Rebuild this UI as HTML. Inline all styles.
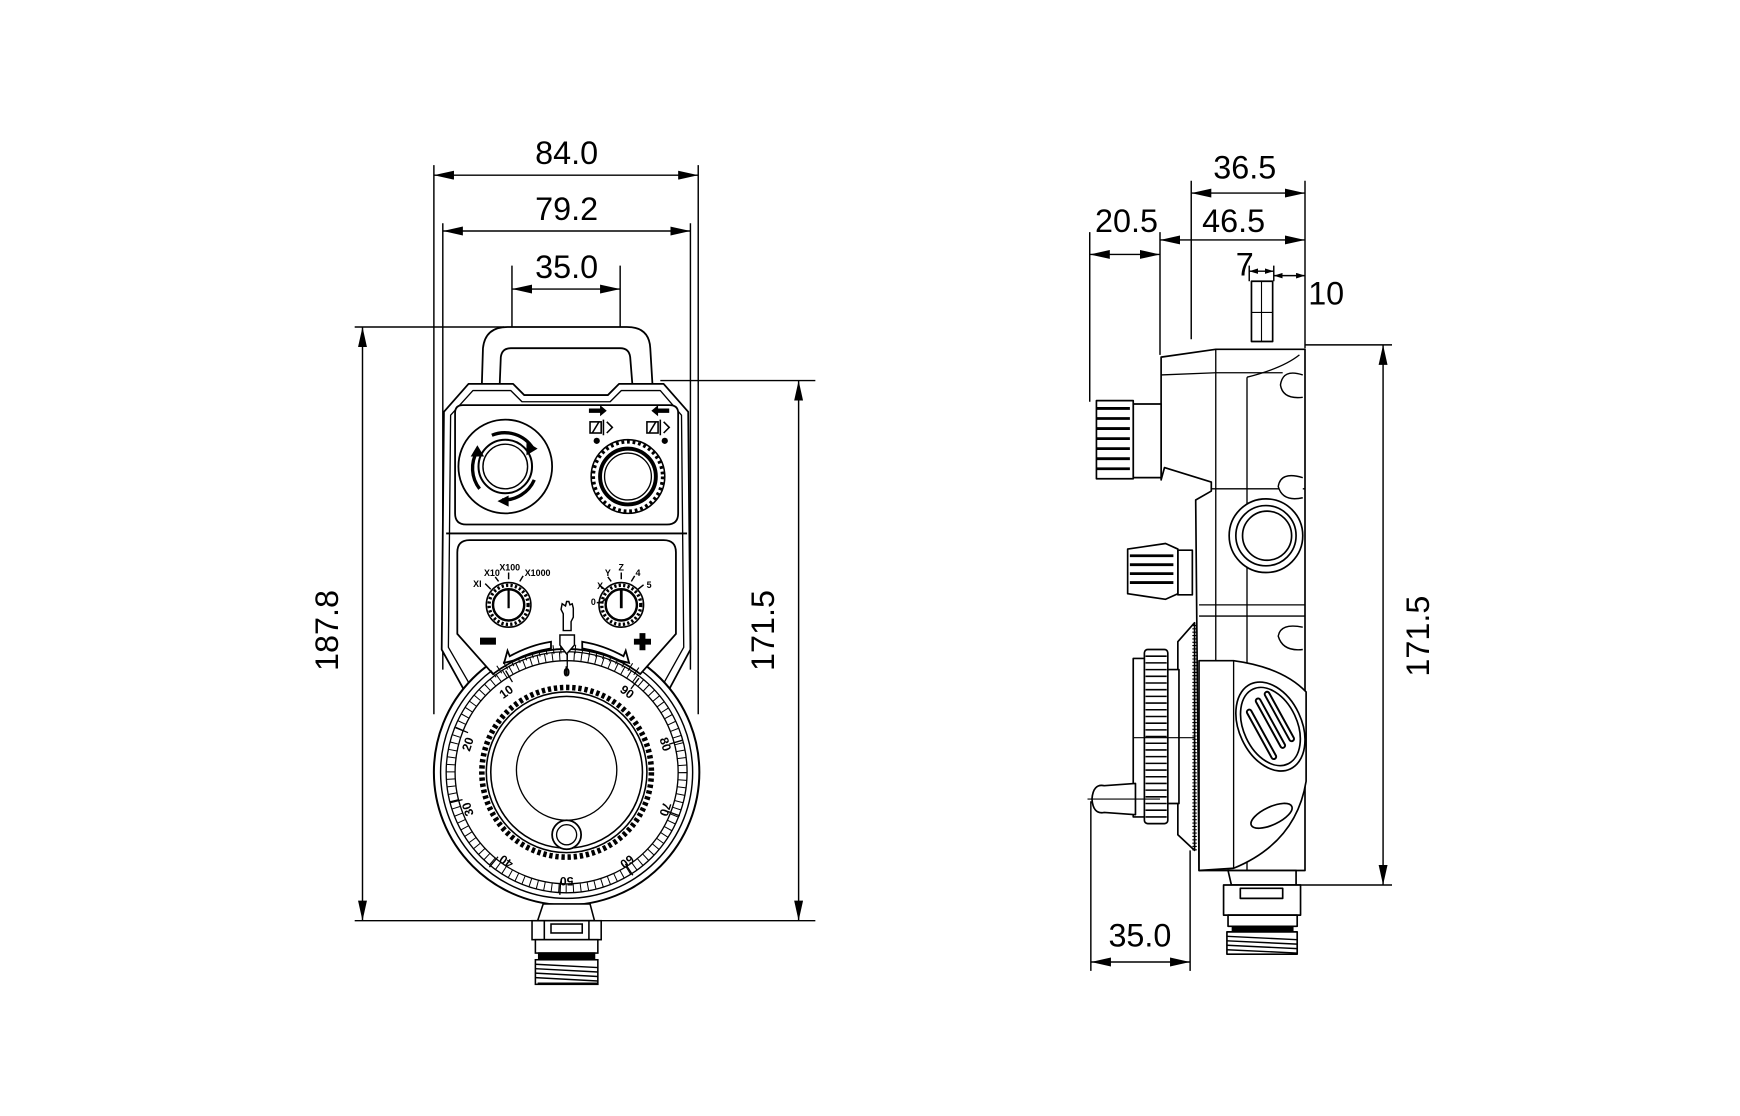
<!DOCTYPE html>
<html><head><meta charset="utf-8"><style>
html,body{margin:0;padding:0;background:#fff}
svg{display:block}
text{font-family:"Liberation Sans",sans-serif;fill:#000}
</style></head><body>
<svg width="1740" height="1116" viewBox="0 0 1560 1000" preserveAspectRatio="none" xmlns="http://www.w3.org/2000/svg">
<defs>
<marker id="a" viewBox="0 0 18 8" refX="18" refY="4" markerWidth="18" markerHeight="8" orient="auto-start-reverse" markerUnits="userSpaceOnUse"><path d="M0,0 L18,4 L0,8z"/></marker>
<marker id="s" viewBox="0 0 8 5" refX="8" refY="2.5" markerWidth="8" markerHeight="5" orient="auto-start-reverse" markerUnits="userSpaceOnUse"><path d="M0,0 L8,2.5 L0,5z"/></marker>
</defs>
<rect width="1560" height="1000" fill="#fff"/>

<g stroke="#000" stroke-width="1.3" fill="none">
<line x1="389" y1="148" x2="389" y2="640"/>
<line x1="626" y1="148" x2="626" y2="640"/>
<line x1="397" y1="200" x2="397" y2="600"/>
<line x1="619" y1="200" x2="619" y2="600"/>
<line x1="459" y1="238" x2="459" y2="300"/>
<line x1="556" y1="238" x2="556" y2="300"/>
<line x1="318" y1="293" x2="452" y2="293"/>
<line x1="592" y1="341" x2="731" y2="341"/>
<line x1="318" y1="825" x2="731" y2="825"/>
<line x1="389" y1="157" x2="626" y2="157" marker-start="url(#a)" marker-end="url(#a)"/>
<line x1="397" y1="207" x2="619" y2="207" marker-start="url(#a)" marker-end="url(#a)"/>
<line x1="459" y1="259" x2="556" y2="259" marker-start="url(#a)" marker-end="url(#a)"/>
<line x1="325" y1="293" x2="325" y2="825" marker-start="url(#a)" marker-end="url(#a)"/>
<line x1="716" y1="341" x2="716" y2="825" marker-start="url(#a)" marker-end="url(#a)"/>
</g>
<g font-size="29" text-anchor="middle">
<text x="508" y="147">84.0</text>
<text x="508" y="197">79.2</text>
<text x="508" y="249">35.0</text>
<text transform="translate(303,565) rotate(-90)">187.8</text>
<text transform="translate(694,565) rotate(-90)">171.5</text>
</g>

<g stroke="#000" stroke-width="1.6" fill="#fff" stroke-linejoin="round">
<path d="M432,345 L433,312 Q435,293 455,293 L562,293 Q582,293 583,312 L585,345 L567,345 L565,320 Q564,312 556,312 L458,312 Q450,312 449,320 L448,345 Z"/>
<path d="M398,369 L420,344 L460,344 L470,354 L545,354 L555,344 L595,344 L617,369 L619,582 L588,640 L428,640 L396,582 Z"/>
<path d="M404,372 L424,350 L458,350 L468,360 L547,360 L557,350 L592,350 L611,372 L613,580 L584,632 L432,632 L402,580 Z" stroke-width="1.2"/>
<path d="M408,370 Q408,363 415,363 L600,363 Q608,363 608,370 L608,460 Q608,470 598,470 L418,470 Q408,470 408,460 Z"/>
<line x1="400" y1="478" x2="616" y2="478"/>
</g>
<g stroke="#000" fill="none">
<circle cx="453" cy="418" r="42" stroke-width="1.6" fill="#fff"/>
<circle cx="453" cy="418" r="24" stroke-width="1.8"/>
<circle cx="453" cy="418" r="20" stroke-width="1.3"/>
<path d="M441,390 A30 30 0 0 1 478,402" stroke-width="3"/>
<path d="M479,430 A30 30 0 0 1 450,448" stroke-width="3"/>
<path d="M430,438 A30 30 0 0 1 428,404" stroke-width="3"/>
</g>
<g fill="#000"><path d="M472,396 L482,402 L472,408z"/><path d="M456,444 L446,449 L456,454z"/><path d="M422,409 L428,399 L434,409z"/></g>
<g stroke="#000" fill="none">
<circle cx="563" cy="427" r="33" stroke-width="1.4" fill="#fff"/>
<circle cx="563" cy="427" r="31" stroke-width="3" stroke-dasharray="2.5 2.5"/>
<circle cx="563" cy="427" r="25" stroke-width="3.5"/>
<circle cx="563" cy="427" r="21" stroke-width="1.2"/>
</g>
<g stroke="#000" stroke-width="1.4" fill="none">
<rect x="529" y="378" width="10" height="10"/><line x1="531" y1="388" x2="537" y2="378"/>
<path d="M541,376 L541,390 M544,378 L549,383 L544,388"/>
<rect x="580" y="378" width="10" height="10"/><line x1="582" y1="388" x2="588" y2="378"/>
<path d="M592,376 L592,390 M595,378 L600,383 L595,388"/>
</g>
<g fill="#000">
<path d="M528,366 L538,366 L538,363 L544,368 L538,373 L538,370 L528,370z"/>
<path d="M600,366 L590,366 L590,363 L584,368 L590,373 L590,370 L600,370z"/>
<circle cx="535" cy="395" r="2.8"/><circle cx="596" cy="395" r="2.8"/>
</g>

<g stroke="#000" fill="none">
<circle cx="508" cy="692" r="119" stroke-width="1.8" fill="#fff"/>
<circle cx="508" cy="692" r="113" stroke-width="1.3"/>
<circle cx="508" cy="692" r="108" stroke-width="1.2"/>
<circle cx="508" cy="692" r="104" stroke-width="8" stroke-dasharray="0.9 5.63"/>
<circle cx="506" cy="692" r="102" stroke-width="12" stroke-dasharray="1.2 63.9" transform="rotate(-90 508 692)"/>
<circle cx="508" cy="692" r="100" stroke-width="1.2"/>
<circle cx="508" cy="692" r="76" stroke-width="5" stroke-dasharray="3 2.5"/>
<circle cx="508" cy="692" r="72" stroke-width="1.4"/>
<circle cx="508" cy="692" r="68" stroke-width="1.4"/>
<circle cx="508" cy="690" r="45" stroke-width="1.2"/>
<circle cx="508" cy="748" r="13" stroke-width="1.6" fill="#fff"/>
<circle cx="508" cy="748" r="9" stroke-width="1.2"/>
</g>
<g font-size="11" font-weight="bold" text-anchor="middle">
<text transform="translate(508,606)">0</text>
<text transform="translate(456,623) rotate(-36)">10</text>
<text transform="translate(423,668) rotate(-72)">20</text>
<text transform="translate(423,724) rotate(-108)">30</text>
<text transform="translate(456,769) rotate(-144)">40</text>
<text transform="translate(508,786) rotate(180)">50</text>
<text transform="translate(560,769) rotate(144)">60</text>
<text transform="translate(593,724) rotate(108)">70</text>
<text transform="translate(593,668) rotate(72)">80</text>
<text transform="translate(560,623) rotate(36)">90</text>
</g>

<path d="M410,568 L410,495 Q410,484 421,484 L595,484 Q606,484 606,495 L606,568 L574,604 A108 108 0 0 0 442 604 Z" fill="#fff" stroke="#000" stroke-width="1.6"/>
<path d="M442,604 A108 108 0 0 1 574 604" fill="none" stroke="#000" stroke-width="8" stroke-dasharray="0.9 5.63"/>
<g stroke="#000" fill="none">
<circle cx="456" cy="542" r="20" stroke-width="1.4" fill="#fff"/>
<circle cx="456" cy="542" r="17.5" stroke-width="3" stroke-dasharray="2 2"/>
<circle cx="456" cy="542" r="14" stroke-width="2.2"/>
<line x1="456" y1="529" x2="456" y2="545" stroke-width="2"/>
<circle cx="557" cy="542" r="20" stroke-width="1.4" fill="#fff"/>
<circle cx="557" cy="542" r="17.5" stroke-width="3" stroke-dasharray="2 2"/>
<circle cx="557" cy="542" r="14" stroke-width="2.2"/>
<line x1="557" y1="529" x2="557" y2="545" stroke-width="2.5"/>
<path d="M440,528 L435,523 M447,521 L444,517 M456,519 L456,513 M466,521 L469,516 M542,528 L537,524 M544,536 L539,540 L535,540 M548,521 L545,517 M557,519 L557,513 M566,521 L569,516 M572,528 L577,524" stroke-width="1.3"/>
</g>
<g font-size="8" font-weight="bold" text-anchor="middle">
<text x="428" y="526">XI</text><text x="441" y="516">X10</text><text x="457" y="511">X100</text><text x="482" y="516">X1000</text>
<text x="538" y="528">X</text><text x="545" y="516">Y</text><text x="557" y="511">Z</text><text x="572" y="516">4</text><text x="582" y="527">5</text><text x="532" y="542">0</text>
</g>
<g stroke="#000" stroke-width="1.3" fill="#fff">
<path d="M505,565 L505,550 L503,546 L504,541 L507,543 L508,539 L510,539 L511,542 L513,541 L514,545 L514,553 L512,557 L512,565 Z"/>
<path d="M502,569 L515,569 L515,578 L508,586 L502,578 Z"/>
<rect x="431" y="572" width="13" height="5" fill="#000"/>
<path d="M574,568 h4 v5 h5 v4 h-5 v5 h-4 v-5 h-5 v-4 h5z" fill="#000"/>
<path d="M452,594 L455,583 L457,588 Q475,578 494,575 L494,581 Q476,584 460,592 Z" stroke-width="1.6"/>
<path d="M564,594 L561,583 L559,588 Q541,578 522,575 L522,581 Q540,584 556,592 Z" stroke-width="1.6"/>
</g>
<path d="M508,597 L508,605" stroke="#000" stroke-width="2"/>
<g stroke="#000" stroke-width="1.4" fill="#fff">
<path d="M487,810 L529,810 L533,825 L482,825 Z"/>
<rect x="477" y="825" width="62" height="17"/>
<line x1="488" y1="825" x2="488" y2="842"/><line x1="528" y1="825" x2="528" y2="842"/>
<rect x="494" y="828" width="28" height="8"/>
<rect x="480" y="842" width="56" height="12"/>
<rect x="483" y="854" width="50" height="6" fill="#000"/>
<rect x="480" y="860" width="56" height="22"/>
</g>
<g stroke="#000" stroke-width="1.3"><path d="M480,864 L536,867 M480,868 L536,871 M480,872 L536,875 M480,876 L536,879 M482,881 L536,881"/></g>

<g stroke="#000" stroke-width="1.3" fill="none">
<line x1="977" y1="208" x2="977" y2="360"/>
<line x1="1040" y1="208" x2="1040" y2="318"/>
<line x1="1068" y1="162" x2="1068" y2="304"/>
<line x1="1170" y1="162" x2="1170" y2="312"/>
<line x1="1120" y1="238" x2="1120" y2="252"/>
<line x1="1142" y1="238" x2="1142" y2="252"/>
<line x1="1170" y1="309" x2="1248" y2="309"/>
<line x1="1160" y1="793" x2="1248" y2="793"/>
<line x1="978" y1="718" x2="978" y2="870"/>
<line x1="1067" y1="762" x2="1067" y2="870"/>
<line x1="1068" y1="173" x2="1170" y2="173" marker-start="url(#a)" marker-end="url(#a)"/>
<line x1="1040" y1="215" x2="1170" y2="215" marker-start="url(#a)" marker-end="url(#a)"/>
<line x1="977" y1="228" x2="1040" y2="228" marker-start="url(#a)" marker-end="url(#a)"/>
<line x1="1120" y1="243" x2="1142" y2="243" marker-start="url(#s)" marker-end="url(#s)"/>
<line x1="1142" y1="247" x2="1170" y2="247" marker-start="url(#s)" marker-end="url(#s)"/>
<line x1="1240" y1="309" x2="1240" y2="793" marker-start="url(#a)" marker-end="url(#a)"/>
<line x1="978" y1="862" x2="1067" y2="862" marker-start="url(#a)" marker-end="url(#a)"/>
</g>
<g font-size="29" text-anchor="middle">
<text x="1116" y="160">36.5</text>
<text x="1106" y="208">46.5</text>
<text x="1010" y="208">20.5</text>
<text x="1116" y="247">7</text>
<text x="1189" y="273">10</text>
<text transform="translate(1281,570) rotate(-90)">171.5</text>
<text x="1022" y="848">35.0</text>
</g>

<g stroke="#000" stroke-width="1.5" fill="#fff" stroke-linejoin="round">
<rect x="1122" y="252" width="19" height="54"/>
<line x1="1131" y1="252" x2="1131" y2="306" stroke-width="1"/><line x1="1122" y1="280" x2="1141" y2="280" stroke-width="1"/>
<path d="M1041,320 L1090,313 L1170,313 L1170,780 L1075,780 L1072,448 L1086,440 L1086,432 L1044,419 L1041,430 Z"/>
<line x1="1041" y1="336" x2="1090" y2="334" stroke-width="1.2"/><line x1="1090" y1="334" x2="1150" y2="334" stroke-width="1.2"/>
<line x1="1090" y1="313" x2="1090" y2="780" stroke-width="1.2"/>
<line x1="1118" y1="338" x2="1118" y2="780" stroke-width="1.2"/>
<line x1="1086" y1="438" x2="1170" y2="438" stroke-width="1.2"/>
<line x1="1075" y1="542" x2="1170" y2="542" stroke-width="1.2"/>
<line x1="1075" y1="552" x2="1170" y2="552" stroke-width="1.2"/>
<path d="M1118,338 Q1150,330 1165,318" fill="none" stroke-width="1.2"/>
<path d="M1168,336 Q1150,330 1148,345 Q1150,358 1168,356" stroke-width="1.3"/>
<path d="M1168,428 Q1148,422 1146,436 Q1150,450 1168,446" stroke-width="1.3"/>
<path d="M1168,562 Q1148,558 1146,570 Q1150,584 1168,582" stroke-width="1.3"/>
<circle cx="1135" cy="480" r="33"/>
<circle cx="1135" cy="480" r="27"/>
<circle cx="1136" cy="480" r="22"/>
<rect x="1016" y="362" width="25" height="66"/>
<rect x="983" y="359" width="33" height="70"/>
<rect x="1056" y="493" width="13" height="40"/>
<path d="M1011,492 L1045,487 L1056,492 L1056,532 L1045,537 L1011,532 Z"/>
<path d="M1075,592 L1106,592 Q1150,598 1171,620 L1171,700 Q1162,755 1106,778 L1075,780 Z"/>
<line x1="1106" y1="592" x2="1106" y2="778" stroke-width="1.2"/>
<ellipse cx="1139" cy="651" rx="28" ry="42" transform="rotate(-25 1139 651)"/>
<ellipse cx="1139" cy="651" rx="24" ry="37" transform="rotate(-25 1139 651)"/>
<ellipse cx="1140" cy="731" rx="20" ry="8" transform="rotate(-25 1140 731)"/>
<path d="M1056,575 L1071,558 L1071,762 L1056,748 Z"/>
<rect x="1016" y="590" width="12" height="142"/>
<rect x="1026" y="582" width="21" height="156" rx="3"/>
<rect x="1047" y="600" width="10" height="120"/>
<path d="M1018,702 L1018,730 L990,728 Q980,730 979,716 Q980,702 990,704 Z"/>
<path d="M1101,780 L1162,780 L1162,793 L1104,793 Z"/>
<rect x="1097" y="793" width="69" height="27"/>
<rect x="1112" y="796" width="38" height="9"/>
<rect x="1101" y="820" width="62" height="10"/>
<rect x="1105" y="830" width="54" height="5" fill="#000"/>
<rect x="1100" y="835" width="63" height="20"/>
</g>
<g stroke="#000" stroke-width="1.3">
<path d="M1100,839 L1163,842 M1100,843 L1163,846 M1100,847 L1163,850 M1100,851 L1163,854"/>
<path d="M983,366 L1013,366 M983,375 L1013,375 M983,384 L1013,384 M983,393 L1013,393 M983,402 L1013,402 M983,411 L1013,411 M983,420 L1013,420" stroke-width="2.5"/>
<path d="M1013,498 L1052,498 M1013,506 L1052,506 M1013,514 L1052,514 M1013,522 L1052,522" stroke-width="2.5"/>
<path d="M1027,588 L1046,588 M1027,594 L1046,594 M1027,600 L1046,600 M1027,606 L1046,606 M1027,612 L1046,612 M1027,618 L1046,618 M1027,624 L1046,624 M1027,630 L1046,630 M1027,636 L1046,636 M1027,642 L1046,642 M1027,648 L1046,648 M1027,654 L1046,654 M1027,660 L1046,660 M1027,666 L1046,666 M1027,672 L1046,672 M1027,678 L1046,678 M1027,684 L1046,684 M1027,690 L1046,690 M1027,696 L1046,696 M1027,702 L1046,702 M1027,708 L1046,708 M1027,714 L1046,714 M1027,720 L1046,720 M1027,726 L1046,726 M1027,732 L1046,732" stroke-width="1.4"/>
<line x1="1071" y1="560" x2="1071" y2="762" stroke-width="4" stroke-dasharray="1 2"/>
<line x1="1016" y1="661" x2="1071" y2="661" stroke-width="1"/>
<line x1="975" y1="716" x2="1040" y2="716" stroke-width="1"/>
<path d="M1128,628 L1150,668 M1136,622 L1158,662 M1120,638 L1142,678" stroke-width="6" stroke-linecap="round"/>
</g>
<path d="M1128,628 L1150,668 M1136,622 L1158,662 M1120,638 L1142,678" stroke="#fff" stroke-width="2.5" stroke-linecap="round"/>
</svg>
</body></html>
